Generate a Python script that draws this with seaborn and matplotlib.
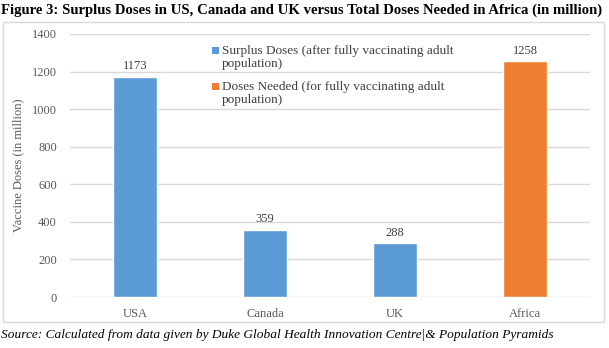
import matplotlib
matplotlib.use("Agg")
import matplotlib.pyplot as plt
from matplotlib.patches import Rectangle
import seaborn as sns
import pandas as pd

categories = ["USA", "Canada", "UK", "Africa"]
doses = [1173, 359, 288, 1258]
series_names = [
    "Surplus Doses (after fully vaccinating adult\npopulation)",
    "Doses Needed (for fully vaccinating adult\npopulation)",
]
series = [series_names[0], series_names[0], series_names[0], series_names[1]]
series_colors = ["#5B9BD5", "#ED7D31"]
yticks = [0, 200, 400, 600, 800, 1000, 1200, 1400]

sns.set_theme(style="white")
plt.rcParams["font.family"] = ["Liberation Serif", "DejaVu Serif"]

df = pd.DataFrame({"Country": categories, "Doses": doses, "Series": series})
palette = dict(zip(series_names, series_colors))

W, H = 609, 348
fig = plt.figure(figsize=(W / 100, H / 100), dpi=100)
fig.patch.set_facecolor("white")

# chart frame
fig.patches.append(Rectangle((3 / W, 1 - 322 / H), 601 / W, 300 / H,
                             transform=fig.transFigure, fill=False,
                             edgecolor="#d9d9d9", linewidth=1.0))

ax = fig.add_axes([70 / W, 1 - 297 / H, 520 / W, 263 / H])
sns.barplot(data=df, x="Country", y="Doses", hue="Series", palette=palette,
            dodge=False, width=0.34, ax=ax, saturation=1, legend=False)

ax.set_ylim(0, 1400)
ax.set_yticks(yticks)
ax.set_xlim(-0.5, 3.5)
ax.yaxis.grid(True, color="#d9d9d9", linewidth=1.0)
ax.set_axisbelow(True)
for s in ax.spines.values():
    s.set_visible(False)
ax.tick_params(axis="both", length=0, labelsize=9, colors="#595959")
ax.tick_params(axis="x", pad=8)
ax.tick_params(axis="y", pad=9.5)
ax.set_xlabel("")
ax.set_ylabel("Vaccine Doses (in million)", fontsize=9, color="#595959")
ax.yaxis.set_label_coords(-46 / 520, 0.5)

for c in ax.containers:
    ax.bar_label(c, fmt="%d", fontsize=9, color="#404040", padding=3)

# legend: square key aligned with the first text line of each entry
for name, color, y_px in zip(series_names, series_colors, [50, 86]):
    fig.patches.append(Rectangle((212 / W, 1 - (y_px + 3.5) / H), 7 / W, 7 / H,
                                 transform=fig.transFigure, facecolor=color,
                                 edgecolor="none"))
    fig.text(222 / W, 1 - (y_px - 5) / H, name, fontsize=9.5, color="#404040",
             va="top", ha="left", linespacing=1.1)

fig.text(0.002, 1 - 10 / H,
         "Figure 3: Surplus Doses in US, Canada and UK versus Total Doses Needed in Africa (in million)",
         fontsize=10.65, fontweight="bold", va="center", ha="left", color="black")
fig.text(0.002, 1 - 335 / H,
         "Source: Calculated from data given by Duke Global Health Innovation Centre|& Population Pyramids",
         fontsize=9.65, fontstyle="italic", va="center", ha="left", color="black")

fig.savefig("out.png", dpi=100)
